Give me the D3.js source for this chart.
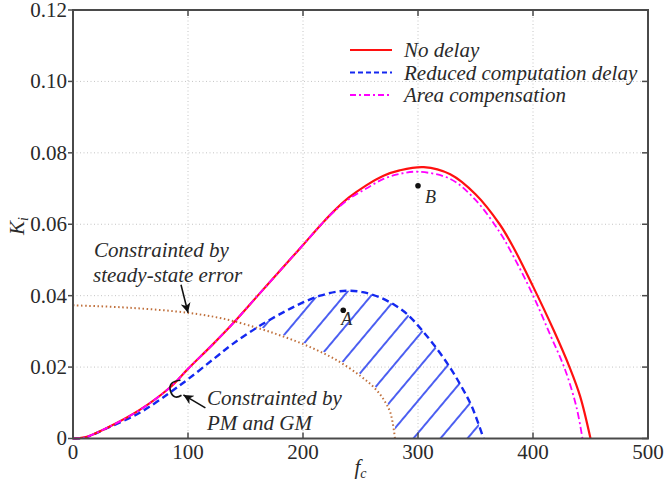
<!DOCTYPE html>
<html>
<head>
<meta charset="utf-8">
<script src="https://cdn.jsdelivr.net/npm/d3@7"></script>
<style>
  body { margin: 0; background: #fff; }
</style>
</head>
<body>
<div class="chart"></div>
<script>
// ---- data ----
var xTicks = [0, 100, 200, 300, 400, 500];
var yTicks = [0, 0.02, 0.04, 0.06, 0.08, 0.10, 0.12];
var yTickLabels = ["0", "0.02", "0.04", "0.06", "0.08", "0.10", "0.12"];

var fNoDelay = [0, 10, 29, 58, 84, 100, 122, 139, 162, 185, 200, 216, 226, 240, 255, 270, 284, 305, 328, 350, 371, 383, 400, 418, 432, 441, 450];
var kNoDelay = [0, 0.0003, 0.0029, 0.0080, 0.0142, 0.0195, 0.0265, 0.0322, 0.0405, 0.0488, 0.0542, 0.0600, 0.0634, 0.0675, 0.0709, 0.0736, 0.0751, 0.0760, 0.0740, 0.0684, 0.0600, 0.0535, 0.0426, 0.0303, 0.0198, 0.0118, 0];

var fAreaComp = [0, 10, 29, 58, 84, 100, 122, 139, 162, 185, 200, 216, 226, 240, 255, 270, 284, 300, 328, 350, 371, 383, 399, 415, 428, 438, 443];
var kAreaComp = [0, 0.0003, 0.0029, 0.0080, 0.0142, 0.0195, 0.0265, 0.0322, 0.0405, 0.0488, 0.0542, 0.0600, 0.0633, 0.0671, 0.0700, 0.0727, 0.0741, 0.0747, 0.0727, 0.0668, 0.0578, 0.0510, 0.0408, 0.0290, 0.0192, 0.0085, 0];

var fReduced = [0, 10, 29, 58, 84, 100, 122, 139, 162, 185, 200, 215, 229, 240, 252, 267, 280, 291, 303, 316, 328, 338, 347, 357];
var kReduced = [0, 0.0002, 0.0028, 0.0072, 0.0128, 0.0166, 0.0222, 0.0265, 0.0315, 0.0357, 0.0381, 0.0400, 0.0411, 0.0414, 0.0410, 0.0395, 0.0373, 0.0347, 0.0305, 0.0253, 0.0198, 0.0144, 0.0088, 0];

var fSteady = [0, 50, 100, 130, 162, 186, 209, 230, 250, 262, 270, 276, 280];
var kSteady = [0.0373, 0.0366, 0.0352, 0.0336, 0.0308, 0.0282, 0.0252, 0.0218, 0.0175, 0.0142, 0.0110, 0.0072, 0];

var legendNames = ["No delay", "Reduced computation delay", "Area compensation"];
var pointNames = ["A", "B"];
var pointF = [235, 300];
var pointK = [0.0359, 0.0708];

// ---- layout ----
var svgWidth = 665;
var svgHeight = 486;
var margin = { top: 10, right: 17, bottom: 47.5, left: 73 };
var width = svgWidth - margin.left - margin.right;
var height = svgHeight - margin.top - margin.bottom;

var svg = d3.select(".chart")
  .append("svg")
  .attr("width", svgWidth)
  .attr("height", svgHeight)
  .attr("font-family", "'Liberation Serif', 'DejaVu Serif', 'Times New Roman', Times, serif")
  .attr("fill", "#2a2a2a");

var chartGroup = svg.append("g")
  .attr("transform", `translate(${margin.left}, ${margin.top})`);

var x = d3.scaleLinear().domain([0, 500]).range([0, width]);
var y = d3.scaleLinear().domain([0, 0.12]).range([height, 0]);

// grid
chartGroup.selectAll(".vgrid").data(xTicks.slice(1, -1)).enter()
  .append("line")
  .attr("x1", d => x(d)).attr("x2", d => x(d))
  .attr("y1", 0).attr("y2", height)
  .attr("stroke", "#c4c4c4").attr("stroke-width", 1)
  .attr("stroke-dasharray", "1,2.5");
chartGroup.selectAll(".hgrid").data(yTicks.slice(1, -1)).enter()
  .append("line")
  .attr("y1", d => y(d)).attr("y2", d => y(d))
  .attr("x1", 0).attr("x2", width)
  .attr("stroke", "#c4c4c4").attr("stroke-width", 1)
  .attr("stroke-dasharray", "1,2.5");

function zip(fs, ks) { return fs.map((f, i) => [f, ks[i]]); }
var curve = d3.curveCatmullRom.alpha(0.5);
var line = d3.line().x(d => x(d[0])).y(d => y(d[1])).curve(curve);
var under = d3.area().x(d => x(d[0])).y0(height).y1(d => y(d[1])).curve(curve);

var noDelay = zip(fNoDelay, kNoDelay);
var areaComp = zip(fAreaComp, kAreaComp);
var reduced = zip(fReduced, kReduced);
var steady = zip(fSteady, kSteady);

// hatched stable region: under reduced-delay curve, above steady-state curve
var defs = svg.append("defs");
var hatch = defs.append("pattern")
  .attr("id", "hatch")
  .attr("patternUnits", "userSpaceOnUse")
  .attr("width", 20.7).attr("height", 40)
  .attr("patternTransform", `translate(${x(296)}, ${height}) rotate(40)`);
hatch.append("line").attr("x1", 0).attr("x2", 0).attr("y1", 0).attr("y2", 40)
  .attr("stroke", "#3a4ff0").attr("stroke-width", 1.8);
hatch.append("line").attr("x1", 20.7).attr("x2", 20.7).attr("y1", 0).attr("y2", 40)
  .attr("stroke", "#3a4ff0").attr("stroke-width", 1.8);

var mask = defs.append("mask").attr("id", "region")
  .attr("maskUnits", "userSpaceOnUse")
  .attr("x", 0).attr("y", 0).attr("width", svgWidth).attr("height", svgHeight);
mask.append("path").attr("d", under(reduced)).attr("fill", "#fff");
mask.append("path").attr("d", under(steady)).attr("fill", "#000")
  .attr("stroke", "#000").attr("stroke-width", 3);

chartGroup.append("rect")
  .attr("width", width).attr("height", height)
  .attr("fill", "url(#hatch)")
  .attr("mask", "url(#region)");

// curves
chartGroup.append("path").attr("d", line(steady))
  .attr("fill", "none").attr("stroke", "#c0703c").attr("stroke-width", 2)
  .attr("stroke-dasharray", "1.5,2.6");
chartGroup.append("path").attr("d", line(reduced))
  .attr("fill", "none").attr("stroke", "#1428f0").attr("stroke-width", 2.4)
  .attr("stroke-dasharray", "7,4");
chartGroup.append("path").attr("d", line(noDelay))
  .attr("fill", "none").attr("stroke", "#ff1010").attr("stroke-width", 2.2);
chartGroup.append("path").attr("d", line(areaComp))
  .attr("fill", "none").attr("stroke", "#ff00ff").attr("stroke-width", 1.8)
  .attr("stroke-dasharray", "7,3,2,3");

// points A, B
chartGroup.selectAll(".pt").data(pointNames).enter()
  .append("circle")
  .attr("cx", (d, i) => x(pointF[i])).attr("cy", (d, i) => y(pointK[i]))
  .attr("r", 2.8).attr("fill", "#111");
chartGroup.selectAll(".ptlabel").data(pointNames).enter()
  .append("text")
  .attr("x", (d, i) => x(pointF[i]) + (i === 0 ? -2 : 7))
  .attr("y", (d, i) => y(pointK[i]) + (i === 0 ? 15 : 17))
  .attr("font-size", 18).attr("font-style", "italic")
  .text(d => d);

// frame and ticks
chartGroup.append("rect").attr("width", width).attr("height", height)
  .attr("fill", "none").attr("stroke", "#4a4a4a").attr("stroke-width", 2);
chartGroup.selectAll(".ytick").data(yTicks).enter()
  .append("line").attr("x1", -5).attr("x2", 0)
  .attr("y1", d => y(d)).attr("y2", d => y(d))
  .attr("stroke", "#4a4a4a").attr("stroke-width", 1.5);
chartGroup.selectAll(".ytickr").data(yTicks).enter()
  .append("line").attr("x1", width - 6).attr("x2", width)
  .attr("y1", d => y(d)).attr("y2", d => y(d))
  .attr("stroke", "#4a4a4a").attr("stroke-width", 1.5);
chartGroup.selectAll(".xtick").data(xTicks).enter()
  .append("line").attr("y1", height - 6).attr("y2", height)
  .attr("x1", d => x(d)).attr("x2", d => x(d))
  .attr("stroke", "#4a4a4a").attr("stroke-width", 1.5);
chartGroup.selectAll(".xtickt").data(xTicks).enter()
  .append("line").attr("y1", 0).attr("y2", 6)
  .attr("x1", d => x(d)).attr("x2", d => x(d))
  .attr("stroke", "#4a4a4a").attr("stroke-width", 1.5);

// tick labels
chartGroup.selectAll(".ylab").data(yTicks).enter()
  .append("text")
  .attr("x", -6).attr("y", d => y(d)).attr("dy", "0.33em")
  .attr("text-anchor", "end").attr("font-size", 21)
  .text((d, i) => yTickLabels[i]);
chartGroup.selectAll(".xlab").data(xTicks).enter()
  .append("text")
  .attr("x", d => x(d)).attr("y", height + 20)
  .attr("text-anchor", "middle").attr("font-size", 21)
  .text(d => d);

// axis titles
var yTitle = svg.append("text")
  .attr("transform", "translate(24, 226) rotate(-90)")
  .attr("text-anchor", "middle").attr("font-size", 21).attr("font-style", "italic");
yTitle.append("tspan").text("K");
yTitle.append("tspan").attr("font-size", 14).attr("dy", 4).text("i");

var xTitle = svg.append("text")
  .attr("x", margin.left + width / 2).attr("y", 474)
  .attr("text-anchor", "middle").attr("font-size", 21).attr("font-style", "italic");
xTitle.append("tspan").text("f");
xTitle.append("tspan").attr("font-size", 14).attr("dy", 4).text("c");

// legend
var legendColors = ["#ff1010", "#1428f0", "#ff00ff"];
var legendDash = [null, "5,3", "6,3,2,3"];
var legendY = [50, 72.5, 95];
legendNames.forEach((name, i) => {
  svg.append("line")
    .attr("x1", 350).attr("x2", 392)
    .attr("y1", legendY[i]).attr("y2", legendY[i])
    .attr("stroke", legendColors[i]).attr("stroke-width", 2)
    .attr("stroke-dasharray", legendDash[i]);
  svg.append("text")
    .attr("x", 404).attr("y", legendY[i] + 7)
    .attr("font-size", 21).attr("font-style", "italic")
    .text(name);
});

// annotations
defs.append("marker")
  .attr("id", "arrow")
  .attr("viewBox", "0 0 10 10")
  .attr("refX", 10).attr("refY", 5)
  .attr("markerWidth", 12).attr("markerHeight", 10)
  .attr("markerUnits", "userSpaceOnUse")
  .attr("orient", "auto")
  .append("path").attr("d", "M0,0 L10,5 L0,10 L3,5 z").attr("fill", "#111");

var note1 = svg.append("text").attr("font-size", 21).attr("font-style", "italic");
note1.append("tspan").attr("x", 94).attr("y", 257).text("Constrainted by");
note1.append("tspan").attr("x", 93).attr("y", 282).text("steady-state error");

var tip1x = margin.left + x(100), tip1y = margin.top + y(0.0352);
svg.append("line")
  .attr("x1", tip1x - 7).attr("y1", tip1y - 28)
  .attr("x2", tip1x).attr("y2", tip1y)
  .attr("stroke", "#111").attr("stroke-width", 1.6)
  .attr("marker-end", "url(#arrow)");

var note2 = svg.append("text").attr("font-size", 21).attr("font-style", "italic");
note2.append("tspan").attr("x", 207).attr("y", 405).text("Constrainted by");
note2.append("tspan").attr("x", 207).attr("y", 430).text("PM and GM");

var tip2x = margin.left + x(96), tip2y = margin.top + y(0.0122);
svg.append("line")
  .attr("x1", tip2x + 22).attr("y1", tip2y + 13)
  .attr("x2", tip2x).attr("y2", tip2y)
  .attr("stroke", "#111").attr("stroke-width", 1.6)
  .attr("marker-end", "url(#arrow)");

// small bracket around the two curves
var bx = margin.left + x(90), by = margin.top + y(0.0135);
svg.append("path")
  .attr("d", `M${bx + 4},${by - 10} Q${bx - 9},${by - 9} ${bx - 6},${by + 1} Q${bx - 3},${by + 10} ${bx + 5},${by + 5}`)
  .attr("fill", "none").attr("stroke", "#111").attr("stroke-width", 1.6);
</script>
</body>
</html>
